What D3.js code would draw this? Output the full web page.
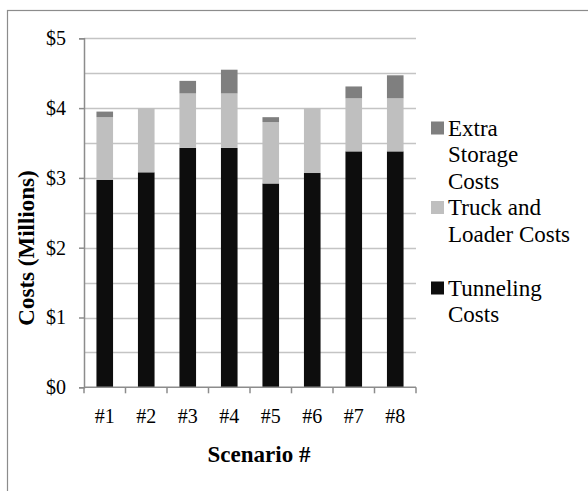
<!DOCTYPE html>
<html>
<head>
<meta charset="utf-8">
<script src="https://cdn.jsdelivr.net/npm/d3@7/dist/d3.min.js"></script>
<style>
  html, body { margin: 0; padding: 0; background: #fff; }
  svg { display: block; }
</style>
</head>
<body>
<svg id="chart" width="588" height="491"></svg>
<script>
// ---- data ----
const categories = ["#1", "#2", "#3", "#4", "#5", "#6", "#7", "#8"];
const tunnelingCosts = [2.97, 3.08, 3.43, 3.43, 2.92, 3.07, 3.38, 3.38];
const truckLoaderCosts = [0.90, 0.92, 0.78, 0.78, 0.88, 0.93, 0.76, 0.76];
const extraStorageCosts = [0.08, 0.00, 0.18, 0.34, 0.07, 0.00, 0.17, 0.33];
const seriesNames = ["Tunneling Costs", "Truck and Loader Costs", "Extra Storage Costs"];
const yTickValues = [0, 1, 2, 3, 4, 5];
const yGridValues = [0.5, 1, 1.5, 2, 2.5, 3, 3.5, 4, 4.5, 5];

const colors = {
  "Tunneling Costs": "#0d0d0d",
  "Truck and Loader Costs": "#bfbfbf",
  "Extra Storage Costs": "#7f7f7f"
};
const FONT = "'Liberation Serif', 'Times New Roman', Times, 'DejaVu Serif', serif";

const svg = d3.select("#chart").attr("font-family", FONT);

// outer chart border (cropped on right and bottom)
svg.append("rect")
  .attr("x", 7.5).attr("y", 10.5).attr("width", 700).attr("height", 700)
  .attr("fill", "none").attr("stroke", "#8c8c8c").attr("stroke-width", 1.2);

const plotLeft = 84, plotRight = 416, plotTop = 38.3, plotBottom = 387.3;

const x = d3.scaleBand().domain(categories).range([plotLeft, plotRight])
  .paddingInner(0.6).paddingOuter(0.3);
const xOuter = d3.scaleBand().domain(categories).range([plotLeft, plotRight]).padding(0);
const y = d3.scaleLinear().domain([0, 5]).range([plotBottom, plotTop]);

// gridlines
svg.append("g").selectAll("line").data(yGridValues).join("line")
  .attr("x1", plotLeft).attr("x2", plotRight)
  .attr("y1", d => Math.round(y(d)) + 0.5).attr("y2", d => Math.round(y(d)) + 0.5)
  .attr("stroke", "#c4c4c4").attr("stroke-width", 1.5);

// stacked data
const rows = categories.map((c, i) => ({
  cat: c,
  "Tunneling Costs": tunnelingCosts[i],
  "Truck and Loader Costs": truckLoaderCosts[i],
  "Extra Storage Costs": extraStorageCosts[i]
}));
const stack = d3.stack().keys(seriesNames)(rows);

svg.append("g").selectAll("g").data(stack).join("g")
  .attr("fill", d => colors[d.key])
  .selectAll("rect").data(d => d).join("rect")
  .attr("x", d => x(d.data.cat))
  .attr("width", x.bandwidth())
  .attr("y", d => y(d[1]))
  .attr("height", d => y(d[0]) - y(d[1]));

// y axis
const yAxis = d3.axisLeft(y).tickValues(yTickValues).tickSize(5).tickPadding(13)
  .tickFormat(d => "$" + d);
const gy = svg.append("g").attr("transform", `translate(${plotLeft},0)`).call(yAxis)
  .attr("font-family", FONT).attr("font-size", 20);
gy.select(".domain").attr("stroke", "#8c8c8c").attr("stroke-width", 1.5);
gy.selectAll(".tick line").attr("stroke", "#8c8c8c").attr("stroke-width", 1.5);
gy.selectAll(".tick text").attr("font-size", 20).attr("font-family", FONT).attr("fill", "#000");

// x axis
const gx = svg.append("g").attr("transform", `translate(0,${plotBottom})`);
gx.append("line").attr("x1", plotLeft).attr("x2", plotRight).attr("y1", 0).attr("y2", 0)
  .attr("stroke", "#8c8c8c").attr("stroke-width", 1.5);
const boundaries = categories.map(c => xOuter(c)).concat([xOuter(categories[categories.length - 1]) + xOuter.bandwidth()]);
gx.selectAll("line.tk").data(boundaries).join("line").attr("class", "tk")
  .attr("x1", d => d).attr("x2", d => d).attr("y1", 0).attr("y2", 6)
  .attr("stroke", "#8c8c8c").attr("stroke-width", 1.5);
gx.selectAll("text").data(categories).join("text")
  .attr("x", d => xOuter(d) + xOuter.bandwidth() / 2)
  .attr("y", 36)
  .attr("text-anchor", "middle").attr("font-size", 20).attr("font-family", FONT)
  .text(d => d);

// axis titles
svg.append("text")
  .attr("x", 259).attr("y", 462)
  .attr("text-anchor", "middle").attr("font-size", 23).attr("font-weight", "bold")
  .attr("font-family", FONT)
  .text("Scenario #");
svg.append("text")
  .attr("transform", "translate(34,248) rotate(-90)")
  .attr("text-anchor", "middle").attr("font-size", 23).attr("font-weight", "bold")
  .attr("font-family", FONT)
  .text("Costs (Millions)");

// legend
const legendItems = [
  { key: "Extra Storage Costs", lines: ["Extra", "Storage", "Costs"], baseline: 135.5 },
  { key: "Truck and Loader Costs", lines: ["Truck and", "Loader Costs"], baseline: 215 },
  { key: "Tunneling Costs", lines: ["Tunneling", "Costs"], baseline: 295.5 }
];
const lg = svg.append("g");
legendItems.forEach(item => {
  lg.append("rect")
    .attr("x", 431).attr("y", item.baseline - 14).attr("width", 13).attr("height", 13)
    .attr("fill", colors[item.key]);
  const t = lg.append("text").attr("x", 448).attr("y", item.baseline)
    .attr("font-size", 23).attr("font-family", FONT);
  item.lines.forEach((ln, i) => {
    t.append("tspan").attr("x", 448).attr("dy", i === 0 ? 0 : 26.5).text(ln);
  });
});
</script>
</body>
</html>
